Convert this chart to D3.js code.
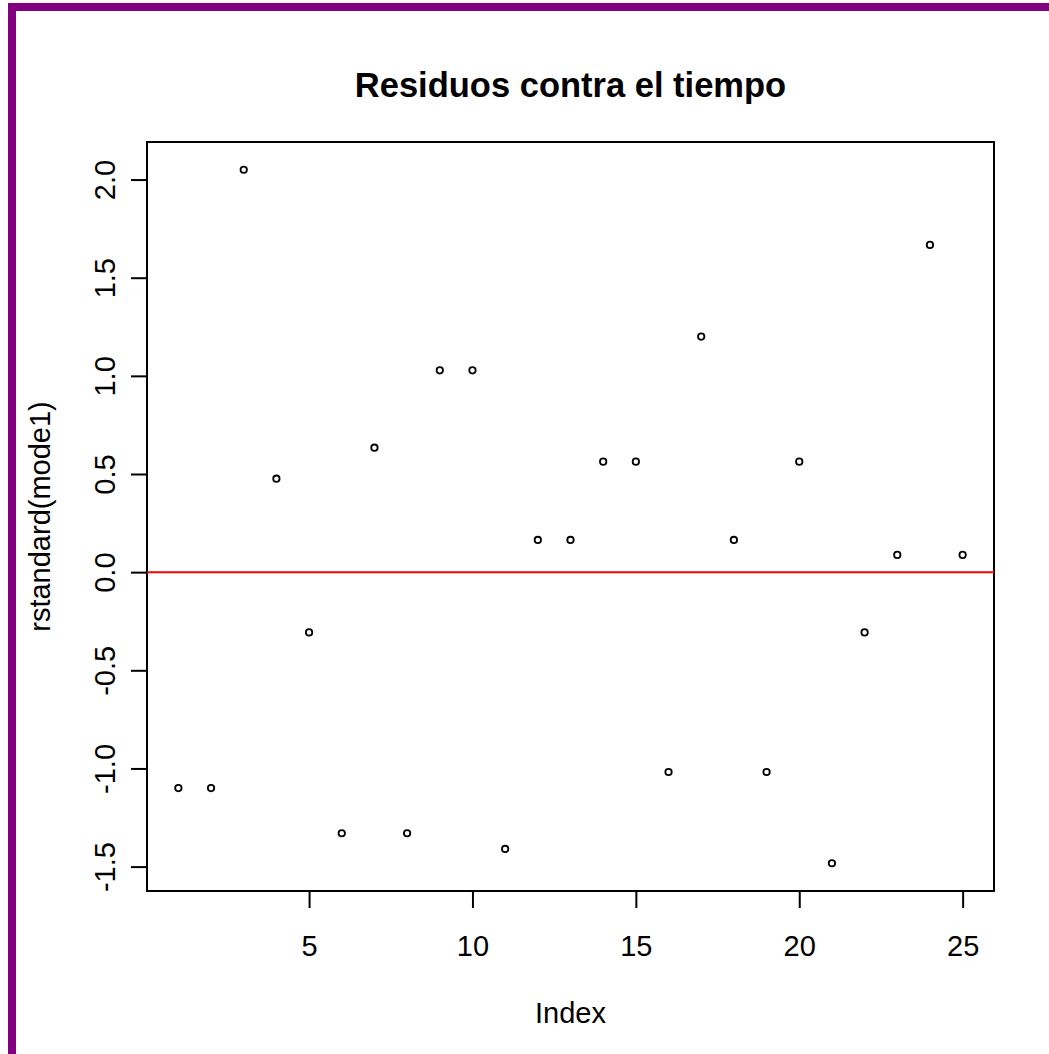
<!DOCTYPE html>
<html>
<head>
<meta charset="utf-8">
<script src="https://cdn.jsdelivr.net/npm/d3@7"></script>
<style>
  html, body { margin: 0; padding: 0; background: #ffffff; }
  svg { display: block; }
  text { font-family: "Liberation Sans", Arial, sans-serif; fill: #000; }
</style>
</head>
<body>
<svg id="chart" width="1049" height="1054"></svg>
<script>
// Observation index and standardized residuals of the fitted model
const index = d3.range(1, 26);
const residuals = [
  -1.10, -1.10, 2.05, 0.476, -0.307, -1.33, 0.634, -1.33, 1.028, 1.028,
  -1.41, 0.164, 0.164, 0.563, 0.563, -1.018, 1.20, 0.164, -1.018, 0.563,
  -1.483, -0.307, 0.088, 1.667, 0.088
];
const xTicks = [5, 10, 15, 20, 25];
const yTicks = [-1.5, -1.0, -0.5, 0.0, 0.5, 1.0, 1.5, 2.0];
const title = "Residuos contra el tiempo";
const xLabel = "Index";
const yLabel = "rstandard(mode1)";

const svg = d3.select("#chart");
const W = 1049, H = 1054;

// frame along the page edge
svg.append("rect").attr("x", 8).attr("y", 3).attr("width", 8).attr("height", H).attr("fill", "#800080");
svg.append("rect").attr("x", 8).attr("y", 3).attr("width", W).attr("height", 8).attr("fill", "#800080");

const plot = { left: 147, right: 994, top: 142, bottom: 891 };

// R-style 4% padding on both axes
function padded(ext) {
  const d = (ext[1] - ext[0]) * 0.04;
  return [ext[0] - d, ext[1] + d];
}
const x = d3.scaleLinear().domain(padded(d3.extent(index))).range([plot.left, plot.right]);
const y = d3.scaleLinear().domain(padded(d3.extent(residuals))).range([plot.bottom, plot.top]);

const fs = 29;

// bottom axis
const xAxis = svg.append("g").attr("transform", `translate(0,${plot.bottom})`)
  .call(d3.axisBottom(x).tickValues(xTicks).tickFormat(d3.format("d")).tickSize(17).tickPadding(27));
xAxis.select(".domain").attr("d", `M${x(xTicks[0])},0H${x(xTicks[xTicks.length - 1])}`)
  .attr("stroke", "#000").attr("stroke-width", 2);
xAxis.selectAll(".tick line").attr("stroke", "#000").attr("stroke-width", 2);
xAxis.selectAll(".tick text").attr("font-size", fs).attr("font-family", "Liberation Sans, Arial, sans-serif");

// left axis, labels parallel to the axis
const yAxis = svg.append("g").attr("transform", `translate(${plot.left},0)`)
  .call(d3.axisLeft(y).tickValues(yTicks).tickFormat(d3.format(".1f")).tickSize(16));
yAxis.select(".domain").attr("d", `M0,${y(yTicks[0])}V${y(yTicks[yTicks.length - 1])}`)
  .attr("stroke", "#000").attr("stroke-width", 2);
yAxis.selectAll(".tick line").attr("stroke", "#000").attr("stroke-width", 2);
yAxis.selectAll(".tick text")
  .attr("font-size", fs)
  .attr("font-family", "Liberation Sans, Arial, sans-serif")
  .attr("x", null).attr("dy", null)
  .attr("text-anchor", "middle")
  .attr("transform", `translate(${115 - plot.left},0) rotate(-90)`)
  .text(d => d3.format(".1f")(d).replace("\u2212", "-"));

// plot box
svg.append("rect")
  .attr("x", plot.left).attr("y", plot.top)
  .attr("width", plot.right - plot.left).attr("height", plot.bottom - plot.top)
  .attr("fill", "none").attr("stroke", "#000").attr("stroke-width", 2);

// zero reference line
svg.append("line")
  .attr("x1", plot.left).attr("x2", plot.right)
  .attr("y1", y(0)).attr("y2", y(0))
  .attr("stroke", "#ff0000").attr("stroke-width", 2);

// residual points
svg.append("g").selectAll("circle")
  .data(index)
  .join("circle")
  .attr("cx", (d, i) => x(d))
  .attr("cy", (d, i) => y(residuals[i]))
  .attr("r", 3.2)
  .attr("fill", "none")
  .attr("stroke", "#000")
  .attr("stroke-width", 1.8);

// titles
svg.append("text")
  .attr("x", (plot.left + plot.right) / 2).attr("y", 97)
  .attr("text-anchor", "middle").attr("font-weight", "bold").attr("font-size", 34.5)
  .text(title);

svg.append("text")
  .attr("x", (plot.left + plot.right) / 2).attr("y", 1023)
  .attr("text-anchor", "middle").attr("font-size", fs)
  .text(xLabel);

svg.append("text")
  .attr("transform", `translate(50,${(plot.top + plot.bottom) / 2}) rotate(-90)`)
  .attr("text-anchor", "middle").attr("font-size", fs)
  .text(yLabel);
</script>
</body>
</html>
